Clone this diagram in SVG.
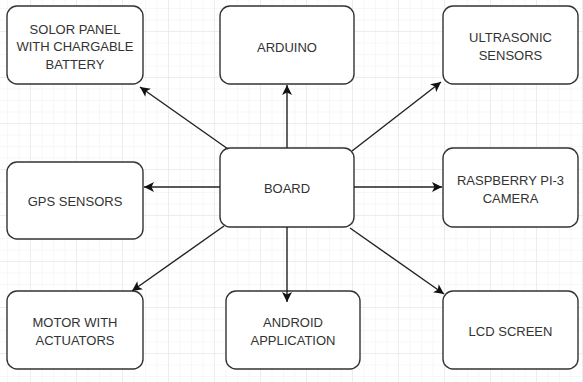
<svg xmlns="http://www.w3.org/2000/svg" width="583" height="382" viewBox="0 0 583 382">
  <defs>
    <style>
      .box { fill: #ffffff; stroke: #333333; stroke-width: 1.4; }
      .lbl { font-family: "Liberation Sans", Arial, sans-serif; font-size: 13px; fill: #333333; text-anchor: middle; }
      .edge { fill: none; stroke: #222222; stroke-width: 1.4; }
    </style>
    <pattern id="minor" x="30" y="31" width="11.5" height="11.5" patternUnits="userSpaceOnUse">
      <path d="M0,0 V11.5 M0,0 H11.5" fill="none" stroke="#efefef" stroke-width="1"/>
    </pattern>
    <pattern id="major" x="30" y="31" width="46" height="46" patternUnits="userSpaceOnUse">
      <path d="M0,0 V46 M0,0 H46" fill="none" stroke="#e4e4e4" stroke-width="1"/>
    </pattern>
    <marker id="arr" markerUnits="userSpaceOnUse" markerWidth="12" markerHeight="12" refX="10" refY="5" orient="auto" viewBox="0 0 12 10">
      <path d="M0,0 L10,5 L0,10 L2.5,5 Z" fill="#111111"/>
    </marker>
  </defs>
  <rect width="583" height="382" fill="#ffffff"/>
  <rect width="583" height="382" fill="url(#minor)"/>
  <rect width="583" height="382" fill="url(#major)"/>

  <g id="solar">
    <rect class="box" x="7" y="6" width="136" height="78" rx="10"/>
    <text class="lbl" x="75" y="33.5">SOLOR PANEL</text>
    <text class="lbl" x="75" y="51">WITH CHARGABLE</text>
    <text class="lbl" x="75" y="68.5">BATTERY</text>
  </g>
  <g id="arduino">
    <rect class="box" x="220" y="6" width="134" height="78" rx="10"/>
    <text class="lbl" x="287" y="51.5">ARDUINO</text>
  </g>
  <g id="ultrasonic">
    <rect class="box" x="443" y="6" width="135" height="78" rx="10"/>
    <text class="lbl" x="510.5" y="42">ULTRASONIC</text>
    <text class="lbl" x="510.5" y="60">SENSORS</text>
  </g>
  <g id="gps">
    <rect class="box" x="7" y="162" width="136" height="77" rx="10"/>
    <text class="lbl" x="75" y="206">GPS SENSORS</text>
  </g>
  <g id="board">
    <rect class="box" x="220" y="148" width="134" height="79" rx="10"/>
    <text class="lbl" x="287" y="193">BOARD</text>
  </g>
  <g id="raspberry">
    <rect class="box" x="443" y="148" width="135" height="79" rx="10"/>
    <text class="lbl" x="510.5" y="185">RASPBERRY PI-3</text>
    <text class="lbl" x="510.5" y="202.5">CAMERA</text>
  </g>
  <g id="motor">
    <rect class="box" x="7" y="291" width="136" height="78" rx="10"/>
    <text class="lbl" x="75" y="327">MOTOR WITH</text>
    <text class="lbl" x="75" y="344.5">ACTUATORS</text>
  </g>
  <g id="android">
    <rect class="box" x="226" y="291" width="134" height="78" rx="10"/>
    <text class="lbl" x="293" y="327">ANDROID</text>
    <text class="lbl" x="293" y="344.5">APPLICATION</text>
  </g>
  <g id="lcd">
    <rect class="box" x="443" y="291" width="135" height="78" rx="10"/>
    <text class="lbl" x="510.5" y="336">LCD SCREEN</text>
  </g>

  <g id="connectors">
    <line class="edge" x1="228" y1="149" x2="140" y2="87" marker-end="url(#arr)"/>
    <line class="edge" x1="287" y1="148" x2="287" y2="85" marker-end="url(#arr)"/>
    <line class="edge" x1="352" y1="151" x2="441" y2="82" marker-end="url(#arr)"/>
    <line class="edge" x1="220" y1="187" x2="144" y2="187" marker-end="url(#arr)"/>
    <line class="edge" x1="354" y1="187" x2="442" y2="187" marker-end="url(#arr)"/>
    <line class="edge" x1="224" y1="226" x2="132" y2="291" marker-end="url(#arr)"/>
    <line class="edge" x1="287" y1="227" x2="287" y2="302" marker-end="url(#arr)"/>
    <line class="edge" x1="350" y1="228" x2="444" y2="294" marker-end="url(#arr)"/>
  </g>
</svg>
